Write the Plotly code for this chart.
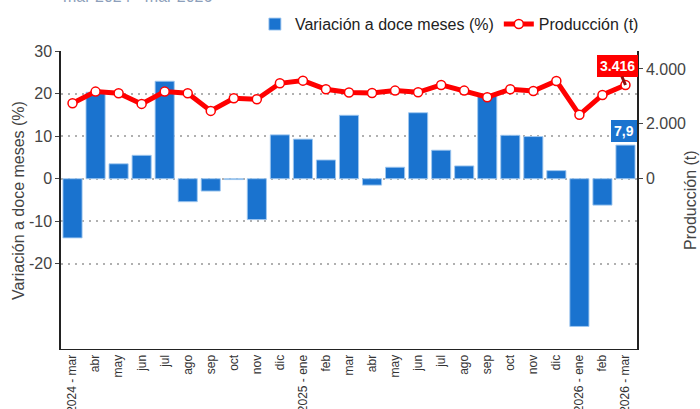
import plotly.graph_objects as go

period_keys = ["2024-03", "2024-04", "2024-05", "2024-06", "2024-07", "2024-08", "2024-09",
               "2024-10", "2024-11", "2024-12", "2025-01", "2025-02", "2025-03", "2025-04",
               "2025-05", "2025-06", "2025-07", "2025-08", "2025-09", "2025-10", "2025-11",
               "2025-12", "2026-01", "2026-02", "2026-03"]
tick_labels = ["2024 - mar", "abr", "may", "jun", "jul", "ago", "sep", "oct", "nov", "dic",
               "2025 - ene", "feb", "mar", "abr", "may", "jun", "jul", "ago", "sep", "oct",
               "nov", "dic", "2026 - ene", "feb", "2026 - mar"]
variacion = [-13.9, 20.3, 3.5, 5.5, 22.9, -5.4, -2.9, -0.2, -9.6, 10.3, 9.3, 4.4, 14.9,
             -1.5, 2.7, 15.5, 6.7, 3.0, 19.5, 10.2, 9.9, 1.9, -34.7, -6.2, 7.9]
produccion = [2752, 3175, 3115, 2727, 3175, 3115, 2472, 2933, 2897, 3478, 3575, 3260, 3145,
              3127, 3212, 3151, 3418, 3212, 2970, 3260, 3200, 3563, 2327, 3054, 3416]
y_ticks = [-20, -10, 0, 10, 20, 30]
y_ticktext = ["-20", "-10", "0", "10", "20", "30"]
y2_ticks = [0, 2000, 4000]
y2_ticktext = ["0", "2.000", "4.000"]

subtitle = "mar 2024 - mar 2026"
bar_name = "Variación a doce meses (%)"
line_name = "Producción (t)"
FONT = "Liberation Sans, Arial, sans-serif"

x = list(range(len(period_keys)))

fig = go.Figure()
fig.add_trace(go.Bar(
    x=x, y=variacion, name=bar_name,
    marker=dict(color="#1a73cf", line=dict(color="rgba(160,200,240,0.9)", width=1)),
    yaxis="y",
))
fig.add_trace(go.Scatter(
    x=x, y=produccion, name=line_name, mode="lines+markers",
    line=dict(color="#ff0000", width=5),
    marker=dict(size=9, color="white", line=dict(color="#ff0000", width=1.5)),
    yaxis="y2",
))

last = len(x) - 1
fig.add_annotation(
    x=x[last], y=produccion[last], xref="x", yref="y2",
    text="<b>3.416</b>", showarrow=True, arrowhead=0, arrowwidth=3, arrowcolor="#8b1010",
    ax=-8, ay=-19, bgcolor="#ff0000", bordercolor="#ff0000", borderpad=2,
    font=dict(color="white", size=14, family=FONT),
)
fig.add_annotation(
    x=x[last], y=variacion[last], xref="x", yref="y",
    text="<b>7,9</b>", showarrow=False, yanchor="bottom", yshift=3, xshift=-1,
    bgcolor="#1a73cf", bordercolor="#1a73cf", borderpad=2,
    font=dict(color="white", size=14, family=FONT),
)
fig.add_annotation(
    x=0, y=1.148, xref="paper", yref="paper", xanchor="left", yanchor="bottom",
    text=subtitle, showarrow=False,
    font=dict(color="#8d9fbb", size=16, family=FONT),
)
fig.add_annotation(
    x=1.092, y=0.5, xref="paper", yref="paper", xanchor="center", yanchor="middle",
    text=line_name, showarrow=False, textangle=-90,
    font=dict(color="#444444", size=16, family=FONT),
)
fig.add_annotation(
    x=-0.0747, y=0.5, xref="paper", yref="paper", xanchor="center", yanchor="middle",
    text=bar_name, showarrow=False, textangle=-90,
    font=dict(color="#444444", size=16, family=FONT),
)

top2 = 4655
fig.update_layout(
    width=700, height=409,
    margin=dict(l=61, r=63, t=51, b=60, autoexpand=False),
    paper_bgcolor="white", plot_bgcolor="white",
    font=dict(family=FONT, color="#444444", size=15),
    separators=",.",
    bargap=0.17,
    showlegend=True,
    legend=dict(orientation="h", x=1.012, xanchor="right", y=1.09, yanchor="middle",
                font=dict(size=16, color="#222222"), traceorder="normal",
                itemwidth=30),
    xaxis=dict(
        range=[-0.5, len(x) - 0.5], tickmode="array", tickvals=x, ticktext=tick_labels,
        tickangle=-90, tickfont=dict(size=12, color="#333333"),
        showline=True, linecolor="#222222", linewidth=1, ticks="", showgrid=False,
        zeroline=False, automargin=False,
    ),
    yaxis=dict(
        range=[-40, 30], tickmode="array", tickvals=y_ticks, ticktext=y_ticktext,
        showgrid=True, gridcolor="#b0b0b0", griddash="2px,5px", gridwidth=1.5,
        zeroline=False, showline=True, linecolor="#222222", linewidth=1.5,
        ticks="outside", ticklen=4, tickcolor="#444444",
        tickfont=dict(size=16, color="#444444"), automargin=False,
    ),
    yaxis2=dict(
        overlaying="y", side="right", range=[-top2 * 4 / 3, top2],
        tickmode="array", tickvals=y2_ticks, ticktext=y2_ticktext,
        showgrid=False, zeroline=False, showline=True, linecolor="#222222", linewidth=1.5,
        ticks="outside", ticklen=4, tickcolor="#444444",
        tickfont=dict(size=16, color="#444444"), automargin=False,
    ),
)

fig.write_html("out.html", config={"displayModeBar": False},
               post_script="document.body.style.margin='0px';")
